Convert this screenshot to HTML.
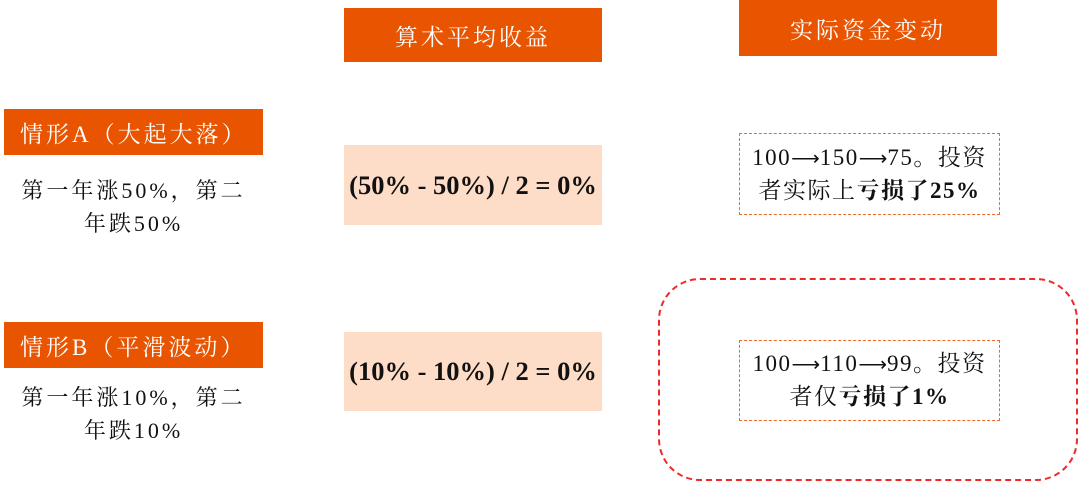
<!DOCTYPE html>
<html><head><meta charset="utf-8"><style>
body{margin:0;width:1080px;height:483px;background:#fff;position:relative;overflow:hidden;font-family:"Liberation Serif","Noto Serif CJK SC",serif;}
div{position:absolute;box-sizing:border-box;}
.or{background:#e85400;color:#fff;font-size:23px;letter-spacing:3px;display:flex;align-items:center;justify-content:center;}
.pk{background:#fddcc8;font-weight:bold;font-size:26.5px;display:flex;align-items:center;justify-content:center;color:#111;}
.dash{border:1.5px dashed #ee6a2a;font-size:23px;letter-spacing:1.5px;line-height:32px;text-align:center;color:#111;display:flex;align-items:center;justify-content:center;white-space:nowrap;}
.tx{font-size:22px;letter-spacing:3px;line-height:33px;text-align:center;color:#111;white-space:nowrap;}
.ar{letter-spacing:0;font-size:20px;}
</style></head><body>
<div class="or" style="left:344px;top:8px;width:258px;height:54px;">算术平均收益</div>
<div class="or" style="left:739px;top:0px;width:258px;height:56px;">实际资金变动</div>
<div class="or" style="left:4px;top:109px;width:259px;height:46px;justify-content:flex-start;padding-left:16px;">情形A（大起大落）</div>
<div class="tx" style="left:4px;top:174px;width:259px;">第一年涨50%，第二<br>年跌50%</div>
<div class="or" style="left:4px;top:322px;width:259px;height:46px;justify-content:flex-start;padding-left:16px;">情形B（平滑波动）</div>
<div class="tx" style="left:4px;top:381px;width:259px;">第一年涨10%，第二<br>年跌10%</div>
<div class="pk" style="left:344px;top:145px;width:258px;height:80px;">(50% - 50%) / 2 = 0%</div>
<div class="pk" style="left:344px;top:332px;width:258px;height:79px;">(10% - 10%) / 2 = 0%</div>
<div class="dash" style="left:739px;top:133px;width:261px;height:82px;"><span>100<span class="ar">⟶</span>150<span class="ar">⟶</span>75。投资<br>者实际上<b>亏损了25%</b></span></div>
<div style="left:658px;top:278px;width:420px;height:203px;border:2px dashed #ee2a2a;border-radius:42px;"></div>
<div class="dash" style="left:739px;top:340px;width:261px;height:81px;"><span>100<span class="ar">⟶</span>110<span class="ar">⟶</span>99。投资<br>者仅<b>亏损了1%</b></span></div>
</body></html>
